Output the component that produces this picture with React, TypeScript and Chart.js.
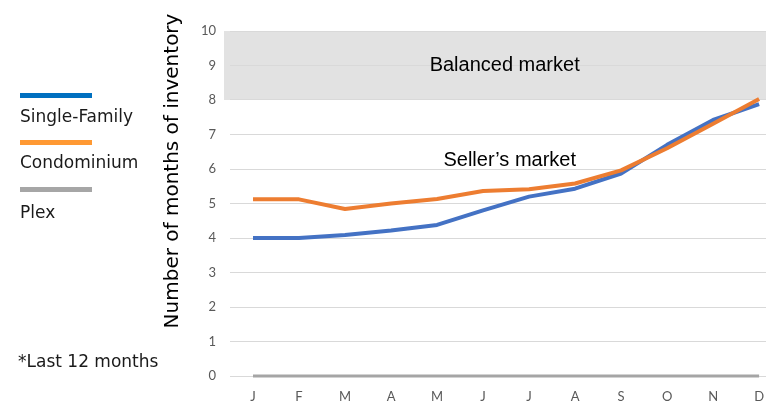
import { useEffect, useRef } from "react";
import { Chart, registerables } from "chart.js";

Chart.register(...registerables);

const months = ["J", "F", "M", "A", "M", "J", "J", "A", "S", "O", "N", "D"];
const singleFamily = [4.0, 4.0, 4.09, 4.22, 4.38, 4.8, 5.2, 5.43, 5.87, 6.7, 7.42, 7.88];
const condominium = [5.12, 5.12, 4.84, 5.0, 5.13, 5.36, 5.41, 5.58, 5.96, 6.6, 7.31, 8.03];
const plex = [0, 0, 0, 0, 0, 0, 0, 0, 0, 0, 0, 0];
const seriesNames = ["Single-Family", "Condominium", "Plex"];
const seriesColors = ["#4472C4", "#ED7D31", "#A5A5A5"];
const legendColors = ["#0070C0", "#FF9933", "#A6A6A6"];
const balancedRange = [8, 10];
const balancedLabel = "Balanced market";
const sellersLabel = "Seller\u2019s market";
const yTitle = "Number of months of inventory";
const footnote = "*Last 12 months";

const toPoints = (vals: number[]) => vals.map((v, i) => ({ x: i, y: v }));

const bandPlugin = {
  id: "marketBand",
  beforeDraw(chart: any) {
    const { ctx, chartArea, scales } = chart;
    const y = scales.y;
    const top = y.getPixelForValue(balancedRange[1]);
    const bottom = y.getPixelForValue(balancedRange[0]);
    ctx.save();
    ctx.fillStyle = "#E2E2E2";
    ctx.fillRect(chartArea.left - 6, top, chartArea.right - chartArea.left + 6, bottom - top);
    ctx.restore();
  },
  afterDatasetsDraw(chart: any) {
    const { ctx, scales } = chart;
    const x = scales.x;
    const y = scales.y;
    ctx.save();
    ctx.fillStyle = "#000000";
    ctx.font = "20px 'Liberation Sans', Arial, sans-serif";
    ctx.textAlign = "center";
    ctx.textBaseline = "middle";
    ctx.fillText(balancedLabel, x.getPixelForValue(5.47), y.getPixelForValue(9.0));
    ctx.fillText(sellersLabel, x.getPixelForValue(5.58), y.getPixelForValue(6.25));
    ctx.restore();
  },
  afterDraw(chart: any) {
    const { ctx, chartArea } = chart;
    ctx.save();
    ctx.translate(chartArea.left - 57, chartArea.top + 140);
    ctx.rotate(-Math.PI / 2);
    ctx.fillStyle = "#000000";
    ctx.font = "20px 'DejaVu Sans', sans-serif";
    ctx.textAlign = "center";
    ctx.textBaseline = "middle";
    ctx.fillText(yTitle, 0, 0);
    ctx.restore();
  },
};

export default function App() {
  const canvasRef = useRef<HTMLCanvasElement | null>(null);

  useEffect(() => {
    if (!canvasRef.current) return;
    const series = [singleFamily, condominium, plex];
    const chart = new Chart(canvasRef.current, {
      type: "line",
      data: {
        datasets: series.map((vals, i) => ({
          label: seriesNames[i],
          data: toPoints(vals),
          borderColor: seriesColors[i],
          backgroundColor: seriesColors[i],
          borderWidth: i === 2 ? 3 : 4,
          pointRadius: 0,
          tension: 0,
          borderJoinStyle: "round" as const,
          clip: false as any,
          order: i === 1 ? 0 : i === 0 ? 1 : 2,
        })),
      },
      options: {
        responsive: false,
        animation: false,
        devicePixelRatio: 1,
        layout: { padding: { left: 162, top: 31, right: 0, bottom: 0 } },
        plugins: { legend: { display: false }, tooltip: { enabled: false } },
        scales: {
          x: {
            type: "linear",
            min: -0.5,
            max: 11.15,
            afterBuildTicks: (scale: any) => {
              scale.ticks = months.map((_, i) => ({ value: i }));
            },
            afterFit: (scale: any) => {
              scale.height = 28;
              scale.paddingLeft = 0;
              scale.paddingRight = 0;
            },
            grid: { display: false, drawTicks: false },
            border: { display: true, color: "#D9D9D9", width: 1 },
            ticks: {
              autoSkip: false,
              maxRotation: 0,
              padding: 13,
              color: "#595959",
              font: { family: "Lato", size: 13 },
              callback: (v: any) => months[v as number] ?? "",
            },
          },
          y: {
            min: 0,
            max: 10,
            afterFit: (scale: any) => {
              scale.width = 68;
            },
            grid: { color: "#D9D9D9", drawTicks: false, lineWidth: 1 },
            border: { display: false },
            ticks: {
              stepSize: 1,
              padding: 14,
              color: "#595959",
              font: { family: "Lato", size: 13 },
            },
          },
        },
      },
      plugins: [bandPlugin],
    });
    return () => chart.destroy();
  }, []);

  const legendTops = [93, 140, 187];
  const textTops = [106, 152, 202];
  const textStyle: React.CSSProperties = {
    position: "absolute",
    fontFamily: "'DejaVu Sans', sans-serif",
    fontSize: 17,
    lineHeight: "20px",
    color: "#1a1a1a",
    whiteSpace: "nowrap",
  };

  return (
    <div style={{ position: "absolute", left: 0, top: 0, width: 766, height: 404, background: "#fff", overflow: "hidden" }}>
      <canvas ref={canvasRef} width={766} height={404} style={{ display: "block", width: 766, height: 404 }} />
      {seriesNames.map((name, i) => (
        <div key={"l" + i}>
          <div style={{ position: "absolute", left: 20, top: legendTops[i], width: 72, height: 5, background: legendColors[i] }} />
          <div style={{ ...textStyle, left: 20, top: textTops[i] }}>{name}</div>
        </div>
      ))}
      <div style={{ ...textStyle, left: 18, top: 351 }}>{footnote}</div>
    </div>
  );
}
